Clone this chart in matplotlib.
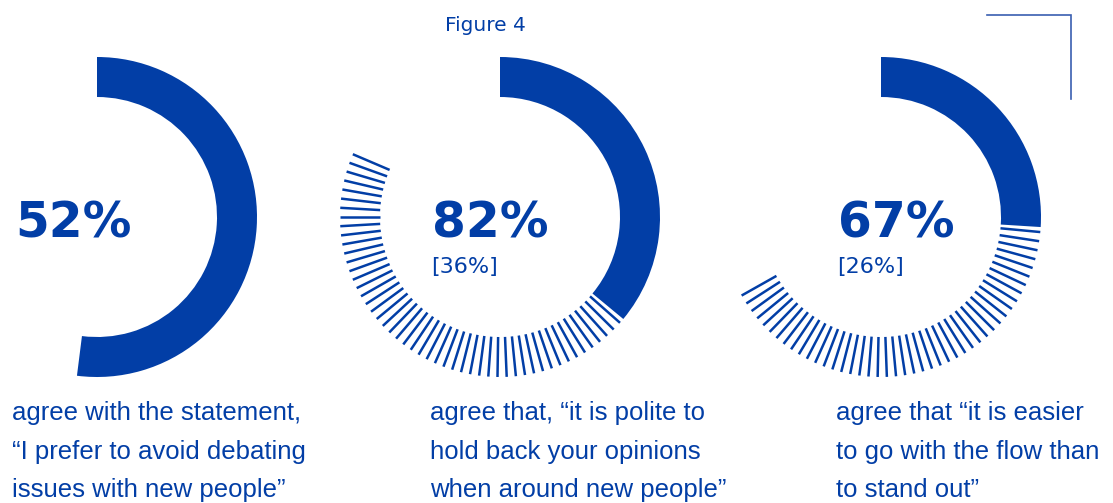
import matplotlib
matplotlib.use("Agg")
import matplotlib.pyplot as plt
from matplotlib.patches import Wedge
import numpy as np

# ---- data ----
main_labels = ["52%", "82%", "67%"]
total_agree = [52, 82, 67]      # solid + striped portion (percent)
strong_agree = [52, 36, 26]     # solid portion (percent)
sub_labels = ["", "[36%]", "[26%]"]
captions = [
    ["agree with the statement,", "\u201cI prefer to avoid debating", "issues with new people\u201d"],
    ["agree that, \u201cit is polite to", "hold back your opinions", "when around new people\u201d"],
    ["agree that \u201cit is easier", "to go with the flow than", "to stand out\u201d"],
]
title = "Figure 4"

# ---- layout (pixels) ----
W, H = 1113, 503
BLUE = "#023ea6"
centers = [(97, 217), (500, 217), (881, 217)]
R_OUT, RING = 160, 40
STEP = 3.3        # angular spacing of the hatch strokes (deg)
GAP = 1.8         # gap between solid arc end and first stroke (deg)
num_x = [15, 432, 838]
cap_x = [12, 430, 836]
cap_base = [420, 459, 497]

fig = plt.figure(figsize=(W / 100, H / 100), dpi=100)
ax = fig.add_axes([0, 0, 1, 1])
ax.set_xlim(0, W)
ax.set_ylim(H, 0)
ax.set_aspect("equal")
ax.axis("off")

cap_family = ["Liberation Sans Narrow", "Liberation Sans", "DejaVu Sans"]

for i, (cx, cy) in enumerate(centers):
    a_strong = strong_agree[i] * 3.6
    a_total = total_agree[i] * 3.6
    # solid arc, clockwise from 12 o'clock (y axis inverted)
    ax.add_patch(Wedge((cx, cy), R_OUT, -90, -90 + a_strong, width=RING,
                       facecolor=BLUE, edgecolor="none"))
    # hatch strokes from the end of the solid arc up to the total share
    if a_total > a_strong:
        angles = np.arange(a_strong + GAP, a_total + 1e-6, STEP)
        for a in angles:
            th = np.deg2rad(-90 + a)
            r0, r1 = R_OUT - RING, R_OUT
            ax.plot([cx + r0 * np.cos(th), cx + r1 * np.cos(th)],
                    [cy + r0 * np.sin(th), cy + r1 * np.sin(th)],
                    color=BLUE, lw=1.8, solid_capstyle="butt")
    ax.text(num_x[i], 238, main_labels[i], fontsize=35, fontweight="bold",
            color=BLUE, ha="left", va="baseline", family="DejaVu Sans")
    if sub_labels[i]:
        ax.text(num_x[i] - 1, 273, sub_labels[i], fontsize=16,
                color=BLUE, ha="left", va="baseline", family="DejaVu Sans")
    for j, line in enumerate(captions[i]):
        ax.text(cap_x[i], cap_base[j], line, fontsize=18.5, color=BLUE,
                ha="left", va="baseline", family=cap_family)

ax.text(445, 31, title, fontsize=14.5, color=BLUE, ha="left", va="baseline",
        family="DejaVu Sans")

# corner bracket
ax.plot([987, 1071, 1071], [15, 15, 99], color="#3a5fb0", lw=1.2,
        solid_joinstyle="miter")

fig.savefig("out.png", dpi=100)
